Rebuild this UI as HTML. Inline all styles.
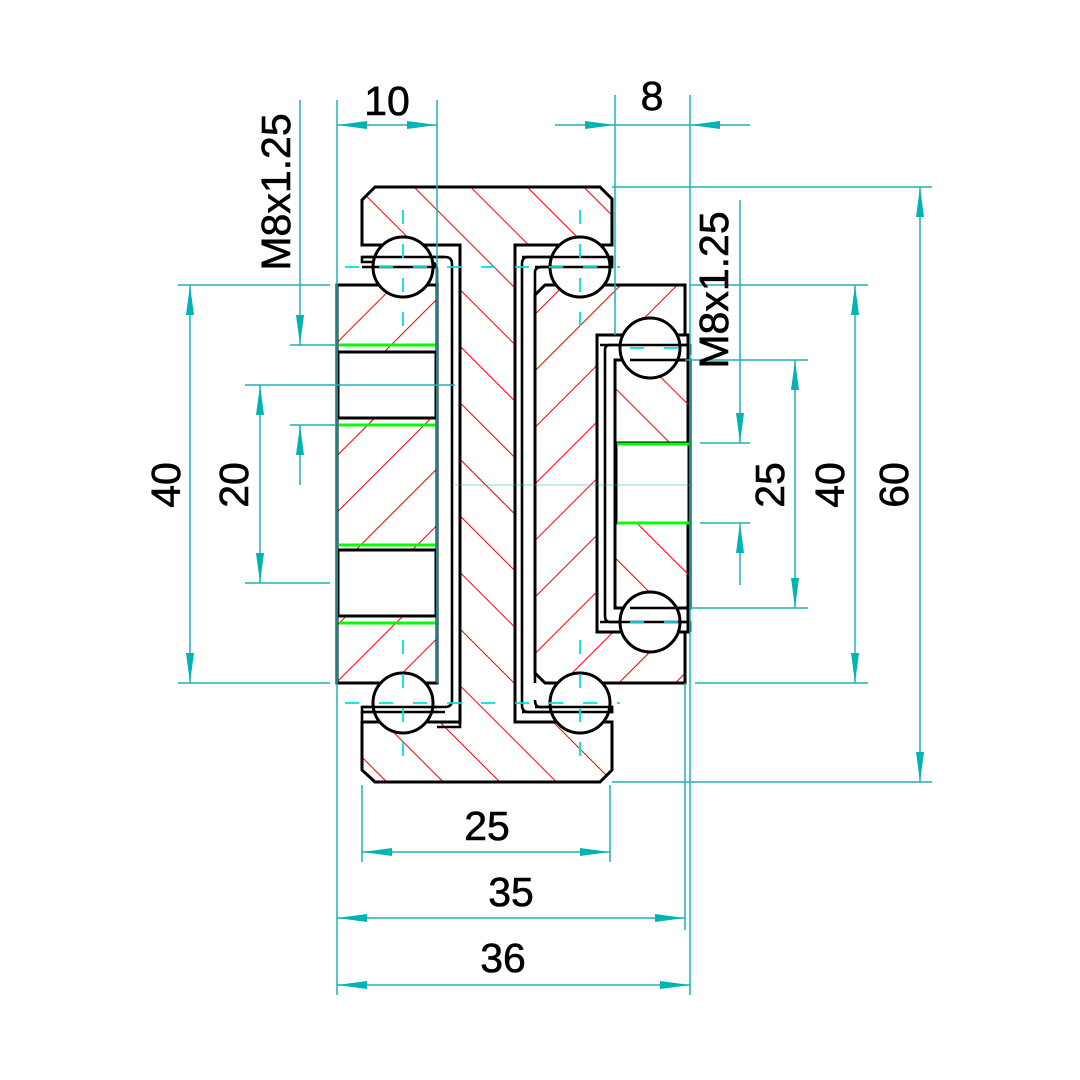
<!DOCTYPE html><html><head><style>body{margin:0;background:#fff}svg{display:block}text{font-family:"Liberation Sans",sans-serif;font-size:41px;fill:#000;stroke:#000;stroke-width:0.6}</style></head><body>
<svg width="1080" height="1080" viewBox="0 0 1080 1080" xmlns="http://www.w3.org/2000/svg">
<defs>
<pattern id="hb" width="40" height="40" patternUnits="userSpaceOnUse" patternTransform="rotate(45)"><line x1="0" y1="0" x2="0" y2="40" stroke="#f00" stroke-width="2"/></pattern>
<pattern id="hf" width="40" height="40" patternUnits="userSpaceOnUse" patternTransform="rotate(-45)"><line x1="0" y1="0" x2="0" y2="40" stroke="#f00" stroke-width="2"/></pattern>
<marker id="a" viewBox="0 0 30 8" refX="30" refY="4" markerWidth="30" markerHeight="8" markerUnits="userSpaceOnUse" orient="auto-start-reverse"><path d="M0,0L30,4L0,8z" fill="#00b4b4"/></marker>
</defs>
<g stroke="#000" stroke-width="3">
<path d="M375,187H600L612,199V245H515V722H612V770L600,782H375L362,770V722H460V245H362V200Z" fill="url(#hf)"/>
<path d="M337,285H437V683H337Z" fill="url(#hb)"/>
<rect x="338" y="352" width="98" height="66" fill="#fff"/>
<rect x="338" y="550" width="98" height="66" fill="#fff"/>
<path d="M545,285H685V683H545L535,673V295Z" fill="url(#hb)"/>
<path d="M597,335H688V632H597Z" fill="#fff"/>
<path d="M615,360H690V608H615Z" fill="url(#hf)"/>
<rect x="616" y="443" width="73" height="80" fill="#fff"/>
</g>
<g stroke="#0f0" stroke-width="3"><line x1="339" y1="345" x2="436" y2="345"/><line x1="339" y1="425" x2="436" y2="425"/><line x1="339" y1="545" x2="436" y2="545"/><line x1="339" y1="623" x2="436" y2="623"/><line x1="617" y1="444" x2="689" y2="444"/><line x1="617" y1="523" x2="689" y2="523"/></g>
<g stroke="#000" stroke-width="2.6" fill="none">
<path d="M437,683V270Q437,262 429,262H362V257H445Q452,257 452,264V700Q452,707 445,707H362V712H437"/>
<path d="M460,245V727H437"/>
<path d="M362,722V712"/>
<path d="M515,245V722"/>
<path d="M535,683V272Q535,267 543,267H612V257H528Q522,257 522,264V705Q522,712 528,712H612V707H540Q535,707 535,700"/>
<path d="M597,335V632H688V622H610Q605,622 605,616V350Q605,345 610,345H688V335Z"/>
<line x1="337" y1="683" x2="437" y2="683"/>
</g>
<g stroke="#000" stroke-width="3" fill="#fff">
<circle cx="403" cy="267" r="30"/><circle cx="580" cy="267" r="30"/><circle cx="403" cy="703" r="30"/><circle cx="580" cy="703" r="30"/>
<circle cx="650" cy="348" r="30"/><circle cx="650" cy="622" r="30"/>
</g>
<g stroke="#000" stroke-width="2.6" fill="none">
<path d="M362,257H445M362,267H437M362,707H437M362,712H445M522,257H612V267H535M535,707H612V712H522"/>
<path d="M630,360H680M630,608H680M600,345H690V355M600,622H690V632"/>
</g>
<g stroke="#00e0e0" stroke-width="1.8" stroke-dasharray="14,20">
<line x1="403" y1="210" x2="403" y2="330"/><line x1="580" y1="210" x2="580" y2="330"/><line x1="403" y1="640" x2="403" y2="760"/><line x1="580" y1="640" x2="580" y2="760"/><line x1="345" y1="267" x2="620" y2="267"/><line x1="345" y1="703" x2="620" y2="703"/><line x1="630" y1="348" x2="680" y2="348"/><line x1="630" y1="622" x2="680" y2="622"/>
</g>
<g stroke="#20b0b0" stroke-width="1.5" fill="none">
<line x1="337" y1="100" x2="337" y2="995"/><line x1="437" y1="100" x2="437" y2="683"/>
<line x1="615" y1="95" x2="615" y2="335"/><line x1="690" y1="95" x2="690" y2="995"/><line x1="685" y1="683" x2="685" y2="930"/>
<line x1="362" y1="785" x2="362" y2="862"/><line x1="610" y1="785" x2="610" y2="862"/>
<line x1="178" y1="285" x2="330" y2="285"/><line x1="178" y1="683" x2="330" y2="683"/>
<line x1="245" y1="385" x2="455" y2="385"/><line x1="245" y1="583" x2="330" y2="583"/>
<line x1="290" y1="345" x2="335" y2="345"/><line x1="290" y1="425" x2="335" y2="425"/>
<line x1="612" y1="187" x2="932" y2="187"/><line x1="612" y1="782" x2="932" y2="782"/>
<line x1="690" y1="285" x2="868" y2="285"/><line x1="695" y1="683" x2="868" y2="683"/>
<line x1="685" y1="360" x2="808" y2="360"/><line x1="690" y1="608" x2="808" y2="608"/>
<line x1="700" y1="443" x2="750" y2="443"/><line x1="700" y1="523" x2="750" y2="523"/>
<line x1="455" y1="485" x2="690" y2="485" stroke-width="0.6"/>
</g>
<g stroke="#20b0b0" stroke-width="1.5">
<line x1="337" y1="125" x2="437" y2="125" marker-start="url(#a)" marker-end="url(#a)"/>
<line x1="555" y1="125" x2="615" y2="125" marker-end="url(#a)"/><line x1="750" y1="125" x2="690" y2="125" marker-end="url(#a)"/><line x1="615" y1="125" x2="690" y2="125"/>
<line x1="300" y1="100" x2="300" y2="345" marker-end="url(#a)"/><line x1="300" y1="485" x2="300" y2="425" marker-end="url(#a)"/>
<line x1="190" y1="285" x2="190" y2="683" marker-start="url(#a)" marker-end="url(#a)"/>
<line x1="260" y1="385" x2="260" y2="583" marker-start="url(#a)" marker-end="url(#a)"/>
<line x1="740" y1="200" x2="740" y2="443" marker-end="url(#a)"/><line x1="740" y1="585" x2="740" y2="523" marker-end="url(#a)"/>
<line x1="795" y1="360" x2="795" y2="608" marker-start="url(#a)" marker-end="url(#a)"/>
<line x1="855" y1="285" x2="855" y2="683" marker-start="url(#a)" marker-end="url(#a)"/>
<line x1="920" y1="187" x2="920" y2="782" marker-start="url(#a)" marker-end="url(#a)"/>
<line x1="362" y1="852" x2="610" y2="852" marker-start="url(#a)" marker-end="url(#a)"/>
<line x1="337" y1="918" x2="685" y2="918" marker-start="url(#a)" marker-end="url(#a)"/>
<line x1="337" y1="985" x2="690" y2="985" marker-start="url(#a)" marker-end="url(#a)"/>
</g>
<text x="387" y="115" text-anchor="middle">10</text>
<text x="652" y="110" text-anchor="middle">8</text>
<text x="487" y="840" text-anchor="middle">25</text>
<text x="511" y="906" text-anchor="middle">35</text>
<text x="503" y="972" text-anchor="middle">36</text>
<text transform="translate(290,192) rotate(-90)" text-anchor="middle">M8x1.25</text>
<text transform="translate(728,290) rotate(-90)" text-anchor="middle">M8x1.25</text>
<text transform="translate(180,485) rotate(-90)" text-anchor="middle">40</text>
<text transform="translate(248,485) rotate(-90)" text-anchor="middle">20</text>
<text transform="translate(784,485) rotate(-90)" text-anchor="middle">25</text>
<text transform="translate(844,485) rotate(-90)" text-anchor="middle">40</text>
<text transform="translate(908,485) rotate(-90)" text-anchor="middle">60</text>
</svg></body></html>
